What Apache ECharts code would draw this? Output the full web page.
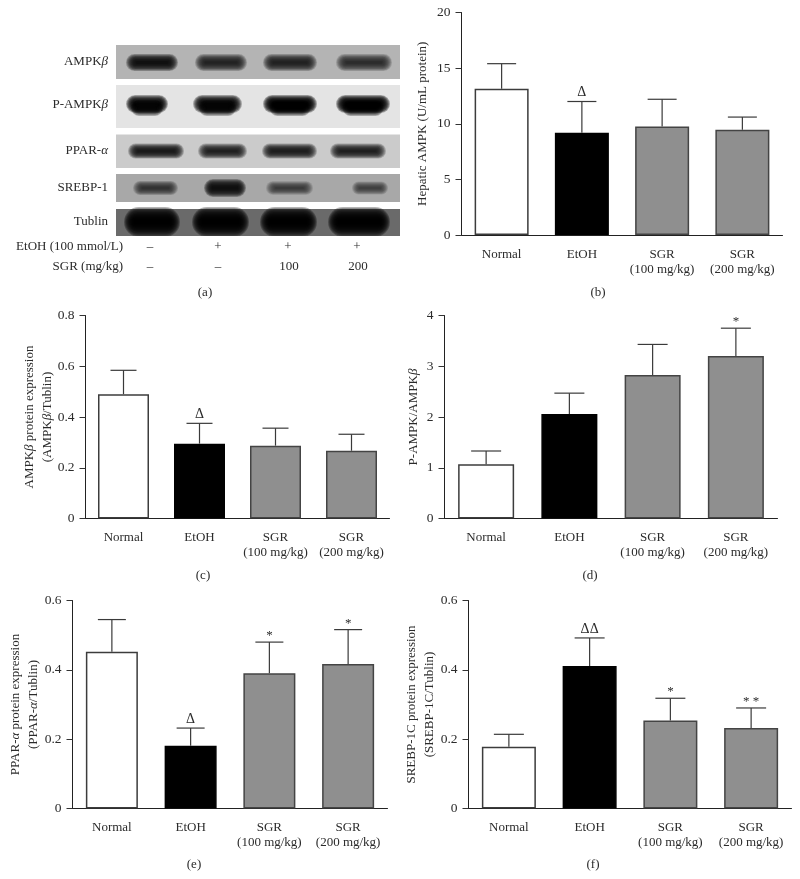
<!DOCTYPE html>
<html>
<head>
<meta charset="utf-8">
<style>html,body{margin:0;padding:0;background:#fff}#c{width:800px;height:879px}</style>
<script src="https://cdn.jsdelivr.net/npm/echarts@6/dist/echarts.min.js"></script>
</head>
<body>
<div id="c"></div>
<script>
// ---- data ----
const categories = ['Normal', 'EtOH', 'SGR\n(100 mg/kg)', 'SGR\n(200 mg/kg)'];

const hepaticMean  = [13.15, 9.2, 9.75, 9.45];
const hepaticUpper = [15.4, 12.0, 12.2, 10.6];
const hepaticMarks = ['', 'Δ', '', ''];

const ampkMean  = [0.49, 0.295, 0.287, 0.267];
const ampkUpper = [0.584, 0.375, 0.356, 0.332];
const ampkMarks = ['', 'Δ', '', ''];

const pAmpkMean  = [1.07, 2.06, 2.83, 3.2];
const pAmpkUpper = [1.33, 2.47, 3.43, 3.75];
const pAmpkMarks = ['', '', '', '*'];

const pparMean  = [0.452, 0.181, 0.39, 0.417];
const pparUpper = [0.545, 0.232, 0.48, 0.516];
const pparMarks = ['', 'Δ', '*', '*'];

const srebpMean  = [0.178, 0.411, 0.254, 0.232];
const srebpUpper = [0.214, 0.492, 0.318, 0.29];
const srebpMarks = ['', 'ΔΔ', '*', '**'];

const blotRows = ['AMPK{i|β}', 'P-AMPK{i|β}', 'PPAR-{i|α}', 'SREBP-1', 'Tublin'];
const blotAmpk  = [0.82, 0.62, 0.64, 0.55];
const blotPAmpk = [0.92, 0.92, 0.98, 0.98];
const blotPpar  = [0.72, 0.66, 0.70, 0.68];
const blotSrebp = [0.48, 0.85, 0.40, 0.36];
const blotTub   = [1, 1, 1, 1];
const etohRow = ['–', '+', '+', '+'];
const sgrRow  = ['–', '–', '100', '200'];

// ---- layout and styles ----
const FONT = '"Liberation Serif", serif';
const INK = '#2b2b2b';
const barFill = ['#ffffff', '#000000', '#8f8f8f', '#8f8f8f'];
const barEdge = ['#3c3c3c', '#000000', '#444444', '#444444'];

const panels = [
  {mean: hepaticMean, upper: hepaticUpper, marks: hepaticMarks, max: 20, step: 5,
   name: 'Hepatic AMPK (U/mL protein)', gap: 30, box: [461.5, 12.5, 321, 222.5], bw: 54, cap: 14.5},
  {mean: ampkMean, upper: ampkUpper, marks: ampkMarks, max: 0.8, step: 0.2,
   name: 'AMPK{i|β} protein expression\n(AMPK{i|β}/Tublin)', gap: 29, box: [85.5, 315.5, 304, 203], bw: 51, cap: 13},
  {mean: pAmpkMean, upper: pAmpkUpper, marks: pAmpkMarks, max: 4, step: 1,
   name: 'P-AMPK/AMPK{i|β}', gap: 22, box: [444.5, 315.5, 333, 203], bw: 56, cap: 15},
  {mean: pparMean, upper: pparUpper, marks: pparMarks, max: 0.6, step: 0.2,
   name: 'PPAR-{i|α} protein expression\n(PPAR-{i|α}/Tublin)', gap: 30, box: [72.5, 600.5, 315, 208], bw: 52, cap: 14},
  {mean: srebpMean, upper: srebpUpper, marks: srebpMarks, max: 0.6, step: 0.2,
   name: 'SREBP-1C protein expression\n(SREBP-1C/Tublin)', gap: 30, box: [468.5, 600.5, 323, 208], bw: 54, cap: 15}
];

const grids = [], xAxes = [], yAxes = [], series = [];
const nameRich = {i: {fontFamily: FONT, fontStyle: 'italic', fontSize: 13, lineHeight: 18, color: INK}};

panels.forEach((p, k) => {
  grids.push({left: p.box[0], top: p.box[1], width: p.box[2], height: p.box[3], containLabel: false});
  xAxes.push({
    type: 'category', gridIndex: k, data: categories,
    axisLine: {lineStyle: {color: '#222', width: 1}},
    axisTick: {alignWithLabel: true, length: 6, lineStyle: {color: '#333'}},
    axisLabel: {fontFamily: FONT, fontSize: 13, lineHeight: 15, color: INK, margin: 12, interval: 0}
  });
  yAxes.push({
    type: 'value', gridIndex: k, min: 0, max: p.max, interval: p.step,
    splitLine: {show: false},
    axisLine: {show: true, lineStyle: {color: '#222', width: 1}},
    axisTick: {show: true, length: 6, lineStyle: {color: '#333'}},
    axisLabel: {fontFamily: FONT, fontSize: 13.5, color: INK, margin: 11},
    name: p.name, nameLocation: 'middle', nameRotate: 90, nameGap: p.gap, nameMoveOverlap: false,
    nameTextStyle: {fontFamily: FONT, fontSize: 13, lineHeight: 18, color: INK, rich: nameRich}
  });
  series.push({
    type: 'bar', xAxisIndex: k, yAxisIndex: k, barWidth: p.bw, silent: true,
    data: p.mean.map((v, i) => ({value: v, itemStyle: {color: barFill[i], borderColor: barEdge[i], borderWidth: 1.5}}))
  });
  series.push({
    type: 'custom', xAxisIndex: k, yAxisIndex: k, silent: true, clip: false, z: 5,
    data: p.mean.map((v, i) => [i, v, p.upper[i]]),
    renderItem(params, api) {
      const base = api.coord([api.value(0), api.value(1)]);
      const top = api.coord([api.value(0), api.value(2)]);
      const line = {stroke: '#3a3a3a', lineWidth: 1.2};
      const kids = [
        {type: 'line', shape: {x1: base[0], y1: base[1], x2: top[0], y2: top[1]}, style: line},
        {type: 'line', shape: {x1: top[0] - p.cap, y1: top[1], x2: top[0] + p.cap, y2: top[1]}, style: line}
      ];
      const mark = p.marks[params.dataIndex];
      if (mark) {
        const star = mark[0] === '*';
        kids.push({type: 'text', style: {
          x: top[0], y: top[1] - (star ? 0 : 2), text: star ? mark.split('').join(' ') : mark,
          align: 'center', verticalAlign: 'bottom',
          fontFamily: FONT, fontSize: star ? 13 : 14, fill: INK
        }});
      }
      return {type: 'group', children: kids};
    }
  });
});

// ---- western blot panel (a), drawn on a hidden grid ----
const blotValues = [blotAmpk, blotPAmpk, blotPpar, blotSrebp, blotTub];
const stripTop = [45, 85, 134.5, 174, 209];
const stripBot = [79, 128, 168, 202, 236];
const stripGrey = ['#b4b4b4', '#e4e4e4', '#cbcbcb', '#a8a8a8', '#6a6a6a'];
const bandCy = [62.5, 104, 151, 188, 222];
const bandH = [17, 18, 15, 16, 30];
const bandX = [
  [[126,178],[195,247],[263,317],[336,392]],
  [[126,168],[193,242],[263,317],[336,390]],
  [[128,184],[198,247],[262,317],[330,386]],
  [[133,178],[204,246],[266,313],[352,388]],
  [[124,180],[192,249],[260,317],[328,390]]
];
const belly = [0, 1, 0, 0, 0];
const shade = v => { const g = Math.round(70 * (1 - v)); return 'rgb(' + g + ',' + g + ',' + g + ')'; };
// stacked translucent rounded rects give a soft blot edge
function softBand(x, cy, w, h, color, strength) {
  const out = [], steps = 12;
  for (let t = 0; t < steps; t++) {
    const f = 1 - t / steps;
    const hh = h * f, ww = w - (1 - f) * Math.min(22, w * 0.45);
    out.push({type: 'rect',
      shape: {x: x + (w - ww) / 2, y: cy - hh / 2, width: ww, height: hh, r: hh / 2},
      style: {fill: color, opacity: strength}});
  }
  return out;
}

grids.push({left: 116, top: 45, width: 284, height: 191});
xAxes.push({type: 'value', gridIndex: 5, min: 116, max: 400, show: false});
yAxes.push({type: 'value', gridIndex: 5, min: 45, max: 236, inverse: true, show: false});
series.push({
  type: 'custom', xAxisIndex: 5, yAxisIndex: 5, silent: true, clip: true,
  data: blotValues.map((r, i) => [i, stripTop[i], stripBot[i]]),
  renderItem(params, api) {
    const i = params.dataIndex;
    const a = api.coord([116, stripTop[i]]), b = api.coord([400, stripBot[i]]);
    const kids = [{type: 'rect', shape: {x: a[0], y: a[1], width: b[0] - a[0], height: b[1] - a[1]}, style: {fill: stripGrey[i]}}];
    blotValues[i].forEach((v, j) => {
      const p0 = api.coord([bandX[i][j][0], bandCy[i]]), p1 = api.coord([bandX[i][j][1], bandCy[i]]);
      const w = p1[0] - p0[0];
      const h = bandH[i] * (i === 3 ? 0.6 + v * 0.6 : 1);
      const strength = 0.05 + 0.24 * v;
      kids.push(...softBand(p0[0], p0[1], w, h, shade(v), strength));
      if (belly[i]) kids.push(...softBand(p0[0] + w * 0.12, p0[1] + 4, w * 0.76, h * 0.9, shade(v), strength * 0.7));
    });
    return {type: 'group', children: kids};
  }
});

// ---- text of panel (a) and captions ----
const txt = (x, y, text, align) => ({
  type: 'text', x, y, silent: true,
  style: {
    text, align: align || 'center', verticalAlign: 'middle',
    fontFamily: FONT, fontSize: 13, fill: INK,
    rich: {i: {fontFamily: FONT, fontStyle: 'italic', fontSize: 13, fill: INK}}
  }
});

const graphics = [];
const rowY = [62, 105, 151, 188, 222];
blotRows.forEach((r, i) => graphics.push(txt(108, rowY[i], r, 'right')));
const laneX = [150, 218, 288, 357];
graphics.push(txt(123, 247, 'EtOH (100 mmol/L)', 'right'));
graphics.push(txt(123, 267, 'SGR (mg/kg)', 'right'));
etohRow.forEach((t, i) => graphics.push(txt(laneX[i], 247, t)));
sgrRow.forEach((t, i) => graphics.push(txt(laneX[i] + (i > 1 ? 1 : 0), 267, t)));
[['(a)', 205, 293], ['(b)', 598, 293], ['(c)', 203, 576], ['(d)', 590, 576], ['(e)', 194, 865], ['(f)', 593, 865]]
  .forEach(c => graphics.push(txt(c[1], c[2], c[0])));

const chart = echarts.init(document.getElementById('c'), null, {renderer: 'canvas', width: 800, height: 879});
chart.setOption({
  animation: false,
  backgroundColor: '#fff',
  grid: grids, xAxis: xAxes, yAxis: yAxes, series,
  graphic: {elements: graphics}
});
</script>
</body>
</html>
